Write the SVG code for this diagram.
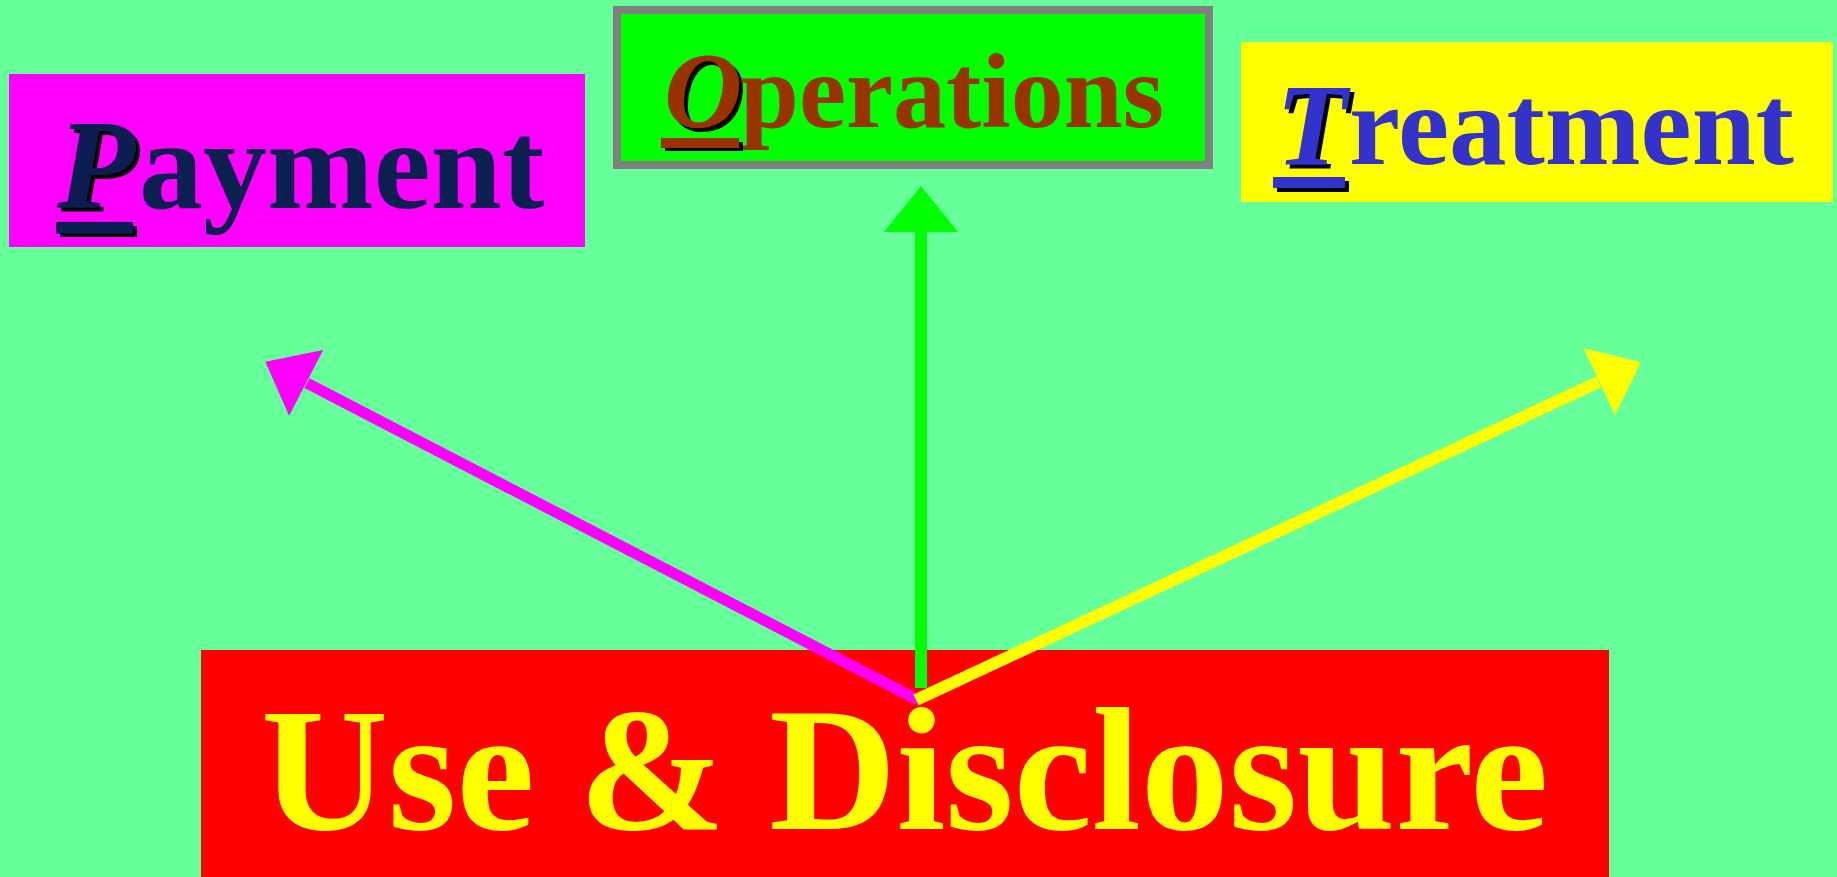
<svg xmlns="http://www.w3.org/2000/svg" width="1837" height="877" viewBox="0 0 1837 877">
  <style>
    .lbl { font-family: "Liberation Serif", "Times New Roman", serif; font-weight: bold; }
    .ini { font-style: italic; filter: url(#drop); }
    .ul { filter: url(#drop); }
    .conn { fill: none; }
  </style>
  <defs>
    <filter id="drop" x="-20%" y="-20%" width="150%" height="150%">
      <feFlood flood-color="#000000" result="black"/>
      <feComposite in="black" in2="SourceAlpha" operator="in" result="sh"/>
      <feOffset in="sh" dx="4" dy="4" result="off"/>
      <feMerge>
        <feMergeNode in="off"/>
        <feMergeNode in="SourceGraphic"/>
      </feMerge>
    </filter>
    <path id="head" d="M0,0 L-46,-37 L-46,37 Z"/>
  </defs>

  <rect x="0" y="0" width="1837" height="877" fill="#66FF99"/>

  <g id="payment">
    <rect x="9" y="74" width="576" height="173" fill="#FF00FF"/>
    <text class="lbl ini" x="57" y="208" font-size="128" fill="#0B1F51">P</text>
    <text class="lbl" x="139" y="208" font-size="128" fill="#0B1F51">ayment</text>
    <rect class="ul" x="56" y="222" width="77" height="11.5" fill="#0B1F51"/>
  </g>

  <g id="operations">
    <rect x="617" y="10" width="592" height="155" fill="#00FF00" stroke="#808080" stroke-width="8"/>
    <text class="lbl ini" x="664" y="127" font-size="108" fill="#993300">O</text>
    <text class="lbl" x="740" y="127" font-size="106" fill="#993300">perations</text>
    <rect class="ul" x="661" y="138" width="78" height="10" fill="#993300"/>
  </g>

  <g id="treatment">
    <rect x="1241" y="42" width="592" height="160" fill="#FFFF00"/>
    <text class="lbl ini" x="1276" y="164" font-size="116" fill="#3333CC">T</text>
    <text class="lbl" x="1349" y="164" font-size="115" fill="#3333CC">reatment</text>
    <rect class="ul" x="1273" y="177" width="72" height="11" fill="#3333CC"/>
  </g>

  <g id="use-disclosure">
    <rect x="201" y="650" width="1408" height="227" fill="#FF0000"/>
    <text class="lbl" x="261" y="829" font-size="176" fill="#FFFF00">Use &amp; Disclosure</text>
  </g>

  <g id="connectors">
    <line class="conn" x1="918" y1="700" x2="307" y2="383.2" stroke="#FF00FF" stroke-width="11"/>
    <use href="#head" fill="#FF00FF" transform="translate(265.3,361.7) rotate(207.4)"/>
    <line class="conn" x1="921" y1="688" x2="921" y2="231" stroke="#00FF00" stroke-width="12"/>
    <use href="#head" fill="#00FF00" transform="translate(921,186) rotate(-90)"/>
    <line class="conn" x1="916" y1="700" x2="1598.5" y2="382" stroke="#FFFF00" stroke-width="12"/>
    <use href="#head" fill="#FFFF00" transform="translate(1641,362.3) rotate(-25)"/>
  </g>
</svg>
